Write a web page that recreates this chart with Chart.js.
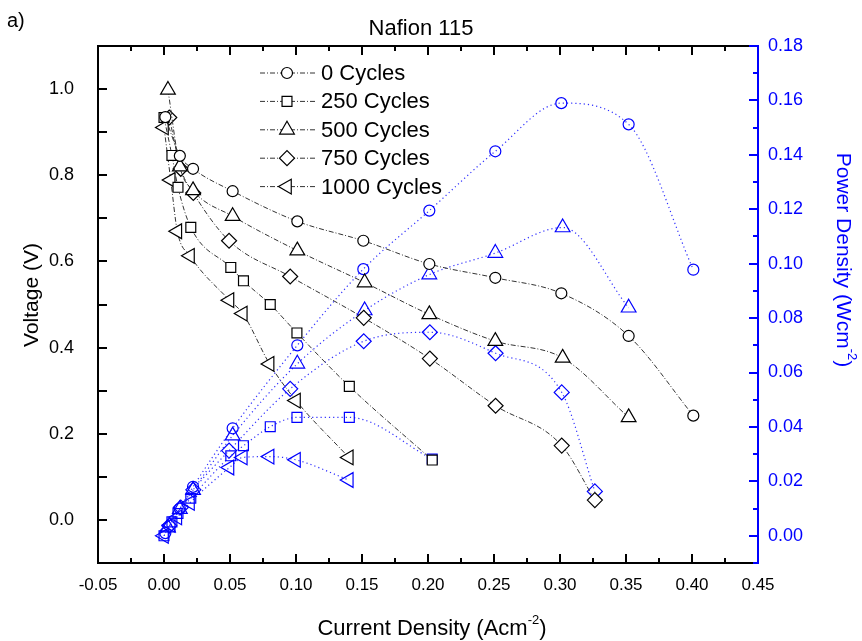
<!DOCTYPE html>
<html><head><meta charset="utf-8">
<script src="https://cdn.jsdelivr.net/npm/chart.js@4.4.1/dist/chart.umd.min.js"></script>
<style>html,body{margin:0;padding:0;background:#fff;}</style>
</head><body>
<canvas id="c" width="862" height="641"></canvas>
<script>
// ---- data ----
const seriesNames = ['0 Cycles', '250 Cycles', '500 Cycles', '750 Cycles', '1000 Cycles'];

const current0 = [0.001, 0.012, 0.022, 0.052, 0.101, 0.151, 0.201, 0.251, 0.301, 0.352, 0.401];
const voltage0 = [0.935, 0.845, 0.815, 0.763, 0.693, 0.648, 0.594, 0.562, 0.526, 0.427, 0.242];
const power0   = [0.001, 0.010, 0.018, 0.0395, 0.070, 0.098, 0.1195, 0.1413, 0.159, 0.1512, 0.0978];

const current250 = [0.000, 0.006, 0.0106, 0.0203, 0.0506, 0.0602, 0.0805, 0.1007, 0.1404, 0.2032];
const voltage250 = [0.934, 0.846, 0.772, 0.679, 0.586, 0.555, 0.500, 0.434, 0.310, 0.139];
const power250   = [0.000, 0.0051, 0.0082, 0.0138, 0.0294, 0.0331, 0.0401, 0.0435, 0.0435, 0.0282];

const current500 = [0.003, 0.012, 0.022, 0.052, 0.101, 0.152, 0.201, 0.251, 0.302, 0.352];
const voltage500 = [0.998, 0.820, 0.765, 0.705, 0.625, 0.551, 0.477, 0.415, 0.376, 0.238];
const power500   = [0.003, 0.0098, 0.0168, 0.0368, 0.0632, 0.0828, 0.0960, 0.1039, 0.1133, 0.0838];

const current750 = [0.004, 0.0127, 0.0222, 0.0493, 0.0956, 0.1513, 0.2014, 0.2512, 0.3013, 0.3264];
const voltage750 = [0.934, 0.815, 0.759, 0.648, 0.565, 0.469, 0.3745, 0.265, 0.1725, 0.046];
const power750   = [0.0037, 0.0104, 0.0169, 0.0313, 0.054, 0.0715, 0.0748, 0.0671, 0.0527, 0.0163];

const current1000 = [0.000, 0.0051, 0.0101, 0.0197, 0.0496, 0.0597, 0.080, 0.100, 0.140];
const voltage1000 = [0.911, 0.789, 0.670, 0.613, 0.510, 0.479, 0.362, 0.277, 0.145];
const power1000   = [0.000, 0.004, 0.0068, 0.0121, 0.0251, 0.0288, 0.0291, 0.0279, 0.0205];

const xTickValues = [-0.05, 0.00, 0.05, 0.10, 0.15, 0.20, 0.25, 0.30, 0.35, 0.40, 0.45];
const xTickLabels = ['-0.05','0.00','0.05','0.10','0.15','0.20','0.25','0.30','0.35','0.40','0.45'];
const leftTickValues = [0.0, 0.2, 0.4, 0.6, 0.8, 1.0];
const leftTickLabels = ['0.0','0.2','0.4','0.6','0.8','1.0'];
const rightTickValues = [0.00, 0.02, 0.04, 0.06, 0.08, 0.10, 0.12, 0.14, 0.16, 0.18];
const rightTickLabels = ['0.00','0.02','0.04','0.06','0.08','0.10','0.12','0.14','0.16','0.18'];

// ---- styling ----
const markers = [
  {style:'circle', r:5.5, rot:0},
  {style:'rect', r:7, rot:0},
  {style:'triangle', r:8.5, rot:0},
  {style:'rectRot', r:7.5, rot:0},
  {style:'triangle', r:8.5, rot:-90}
];
const currents = [current0, current250, current500, current750, current1000];
const voltages = [voltage0, voltage250, voltage500, voltage750, voltage1000];
const powers = [power0, power250, power500, power750, power1000];

const pts = (xs, ys) => xs.map((v, i) => ({x: v, y: ys[i]}));
const datasets = [];
for (let i = 0; i < 5; i++) {
  datasets.push({
    label: seriesNames[i], yAxisID: 'y', data: pts(currents[i], voltages[i]),
    borderColor: '#333', borderWidth: 1, borderDash: [5, 2, 1, 2],
    pointStyle: markers[i].style, pointRadius: markers[i].r, pointRotation: markers[i].rot,
    pointBorderColor: '#000', pointBackgroundColor: '#fff', pointBorderWidth: 1.2,
    cubicInterpolationMode: 'monotone', fill: false
  });
}
for (let i = 0; i < 5; i++) {
  datasets.push({
    label: seriesNames[i] + ' P', yAxisID: 'y1', data: pts(currents[i], powers[i]),
    borderColor: '#3030ff', borderWidth: 1.2, borderDash: [1.2, 3],
    pointStyle: markers[i].style, pointRadius: markers[i].r, pointRotation: markers[i].rot,
    pointBorderColor: '#0000ff', pointBackgroundColor: 'rgba(255,255,255,0)', pointBorderWidth: 1.2,
    cubicInterpolationMode: 'monotone', fill: false
  });
}

function drawMarker(ctx, style, r, rot, x, y) {
  ctx.beginPath();
  if (style === 'circle') ctx.arc(x, y, r, 0, Math.PI * 2);
  else if (style === 'rect') { const s = r * Math.SQRT1_2; ctx.rect(x - s, y - s, 2 * s, 2 * s); }
  else if (style === 'rectRot') { ctx.moveTo(x - r, y); ctx.lineTo(x, y - r); ctx.lineTo(x + r, y); ctx.lineTo(x, y + r); ctx.closePath(); }
  else if (style === 'triangle') {
    let a = rot * Math.PI / 180;
    ctx.moveTo(x + Math.sin(a) * r, y - Math.cos(a) * r);
    a += 2 * Math.PI / 3; ctx.lineTo(x + Math.sin(a) * r, y - Math.cos(a) * r);
    a += 2 * Math.PI / 3; ctx.lineTo(x + Math.sin(a) * r, y - Math.cos(a) * r);
    ctx.closePath();
  }
  ctx.fillStyle = '#fff'; ctx.fill(); ctx.stroke();
}

const FONT = '"Liberation Sans", Arial, sans-serif';

const decor = {
  id: 'decor',
  afterDraw(chart) {
    const {ctx, chartArea: a, scales} = chart;
    const x = scales.x, y = scales.y, y1 = scales.y1;
    ctx.save();
    ctx.lineCap = 'butt';
    // ticks bottom/top
    ctx.strokeStyle = '#000'; ctx.lineWidth = 2;
    for (let k = 0; k <= 20; k++) {
      const v = -0.05 + k * 0.025;
      const px = Math.round(x.getPixelForValue(v));
      const len = (k % 2 === 0) ? 9 : 5;
      ctx.beginPath();
      ctx.moveTo(px, a.bottom); ctx.lineTo(px, a.bottom - len);
      ctx.moveTo(px, a.top); ctx.lineTo(px, a.top + len);
      ctx.stroke();
    }
    // left ticks
    for (let k = 0; k <= 12; k++) {
      const v = -0.1 + k * 0.1;
      const py = Math.round(y.getPixelForValue(v));
      ctx.beginPath(); ctx.moveTo(a.left, py); ctx.lineTo(a.left + 9, py); ctx.stroke();
    }
    // frame
    ctx.beginPath();
    ctx.moveTo(a.right, a.top); ctx.lineTo(a.left, a.top); ctx.lineTo(a.left, a.bottom); ctx.lineTo(a.right, a.bottom);
    ctx.stroke();
    // right axis (blue)
    ctx.strokeStyle = '#0000ff';
    ctx.beginPath(); ctx.moveTo(a.right, a.top - 1); ctx.lineTo(a.right, a.bottom + 1); ctx.stroke();
    for (let k = 0; k <= 19; k++) {
      const v = -0.01 + k * 0.01;
      const py = Math.round(y1.getPixelForValue(v));
      const len = (k % 2 === 1) ? 9 : 5;
      ctx.beginPath(); ctx.moveTo(a.right, py); ctx.lineTo(a.right - len, py); ctx.stroke();
    }
    // titles
    ctx.fillStyle = '#000';
    ctx.font = '22px ' + FONT;
    ctx.textAlign = 'center'; ctx.textBaseline = 'middle';
    ctx.fillText('Nafion 115', 421, 29);
    ctx.textAlign = 'left';
    ctx.font = '20px ' + FONT;
    ctx.fillText('a)', 7, 21);
    const drawSup = (main, sup, tail, cx, cy, color, size) => {
      const big = size + 'px ' + FONT, small = Math.round(size * 0.6) + 'px ' + FONT;
      ctx.font = big;
      const w1 = ctx.measureText(main).width, w3 = ctx.measureText(tail).width;
      ctx.font = small;
      const w2 = ctx.measureText(sup).width;
      let sx = cx - (w1 + w2 + w3) / 2;
      ctx.fillStyle = color; ctx.textAlign = 'left'; ctx.textBaseline = 'alphabetic';
      ctx.font = big; ctx.fillText(main, sx, cy + size * 0.36);
      ctx.font = small; ctx.fillText(sup, sx + w1, cy - size * 0.14);
      ctx.font = big; ctx.fillText(tail, sx + w1 + w2, cy + size * 0.36);
    };
    drawSup('Current Density (Acm', '-2', ')', 432, 627, '#000', 22);
    ctx.save();
    ctx.translate(32, 295); ctx.rotate(-Math.PI / 2);
    ctx.font = '21px ' + FONT;
    ctx.fillStyle = '#000'; ctx.textAlign = 'center'; ctx.textBaseline = 'middle';
    ctx.fillText('Voltage (V)', 0, 0);
    ctx.restore();
    ctx.save();
    ctx.translate(845, 260); ctx.rotate(Math.PI / 2);
    drawSup('Power Density (Wcm', '-2', ')', 0, 0, '#0000ff', 21);
    ctx.restore();
    // legend
    ctx.font = '22px ' + FONT;
    ctx.textAlign = 'left'; ctx.textBaseline = 'middle';
    for (let i = 0; i < 5; i++) {
      const ly = 73 + i * 28.4;
      ctx.strokeStyle = '#333'; ctx.lineWidth = 1; ctx.setLineDash([5, 2, 1, 2]);
      ctx.beginPath(); ctx.moveTo(260, ly); ctx.lineTo(317, ly); ctx.stroke();
      ctx.setLineDash([]);
      ctx.strokeStyle = '#000'; ctx.lineWidth = 1.2;
      drawMarker(ctx, markers[i].style, markers[i].r, markers[i].rot, 287, ly);
      ctx.fillStyle = '#000';
      ctx.fillText(seriesNames[i], 321, ly + 1);
    }
    ctx.restore();
  }
};

new Chart(document.getElementById('c'), {
  type: 'line',
  data: {datasets},
  plugins: [decor],
  options: {
    responsive: false, animation: false, devicePixelRatio: 1,
    layout: {padding: {top: 46, left: 0, right: 0, bottom: 0}},
    plugins: {legend: {display: false}, title: {display: false}, tooltip: {enabled: false}},
    scales: {
      x: {
        type: 'linear', position: 'bottom', min: -0.05, max: 0.45,
        grid: {display: false, drawTicks: false}, border: {display: false},
        afterFit: s => { s.height = 78; },
        afterBuildTicks: s => { s.ticks = xTickValues.map(v => ({value: v})); },
        ticks: {padding: 12, color: '#000', maxRotation: 0, autoSkip: false,
          font: {family: FONT, size: 17},
          callback: (v, i) => xTickLabels[i]}
      },
      y: {
        type: 'linear', position: 'left', min: -0.1, max: 1.1,
        grid: {display: false, drawTicks: false}, border: {display: false},
        afterFit: s => { s.width = 98; },
        afterBuildTicks: s => { s.ticks = leftTickValues.map(v => ({value: v})); },
        ticks: {padding: 24, color: '#000', autoSkip: false,
          font: {family: FONT, size: 18},
          callback: (v, i) => leftTickLabels[i]}
      },
      y1: {
        type: 'linear', position: 'right', min: -0.01, max: 0.18,
        grid: {display: false, drawTicks: false}, border: {display: false},
        afterFit: s => { s.width = 104; },
        afterBuildTicks: s => { s.ticks = rightTickValues.map(v => ({value: v})); },
        ticks: {padding: 10, color: '#0000ff', autoSkip: false,
          font: {family: FONT, size: 18},
          callback: (v, i) => rightTickLabels[i]}
      }
    }
  }
});
</script>
</body></html>
